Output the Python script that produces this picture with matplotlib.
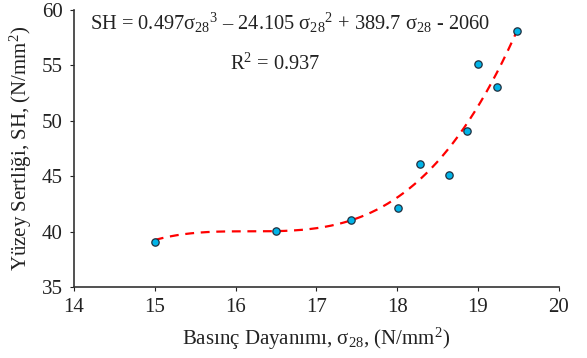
import numpy as np
import matplotlib
matplotlib.use("Agg")
import matplotlib.pyplot as plt

plt.rcParams["font.family"] = ["Liberation Serif", "DejaVu Serif"]
plt.rcParams["mathtext.fontset"] = "custom"
plt.rcParams["mathtext.rm"] = "Liberation Serif"
plt.rcParams["mathtext.it"] = "Liberation Serif:italic"
plt.rcParams["mathtext.default"] = "rm"

# basinc dayanimi (x) ve yuzey sertligi (y)
sigma28 = [15.0, 16.5, 17.43, 18.01, 18.28, 18.64, 18.86, 19.0, 19.23, 19.48]
sh = [39.1, 40.1, 41.1, 42.1, 46.1, 45.1, 49.1, 55.1, 53.1, 58.1]

# trendline katsayilari (3. derece)
coef = [0.497, -24.105, 389.7, -2060]
r2 = 0.937

x_ticks = [14, 15, 16, 17, 18, 19, 20]
y_ticks = [35, 40, 45, 50, 55, 60]

fig = plt.figure(figsize=(5.87, 3.58), dpi=100)
ax = fig.add_axes([0.126, 0.198, 0.826, 0.774])

xs = np.linspace(min(sigma28), max(sigma28), 200)
ax.plot(xs, np.polyval(coef, xs), color="#ff0000", ls=(0, (4, 3)), lw=1.6, zorder=2)
ax.scatter(sigma28, sh, s=28, color="#00b4e8", edgecolors="#1f2f3f", linewidths=0.9, zorder=3)

ax.set_xlim(14, 20)
ax.set_ylim(35, 60)
ax.set_xticks(x_ticks)
ax.set_yticks(y_ticks)
ax.tick_params(labelsize=15, length=3, width=0.8, colors="#222222", pad=5)
for s in ["top", "right"]:
    ax.spines[s].set_visible(False)
for s in ["left", "bottom"]:
    ax.spines[s].set_linewidth(1.2)
    ax.spines[s].set_color("#333333")

ax.set_xlabel(r"Basınç Dayanımı, σ$_{28}$, (N/mm$^{2}$)", fontsize=15, color="#222222", labelpad=6)
ax.set_ylabel(r"Yüzey Sertliği, SH, (N/mm$^{2}$)", fontsize=15, color="#222222", labelpad=6)

ax.text(14.2, 58.8,
        r"SH = 0.497σ$_{28}$$^{3}$ – 24.105 σ$_{28}$$^{2}$ + 389.7 σ$_{28}$ - 2060",
        fontsize=14.7, color="#222222", va="center")
ax.text(15.93, 55.1, r"R$^{2}$ = %.3f" % r2, fontsize=14.7, color="#222222", va="center")

fig.savefig("out.png", dpi=100)
